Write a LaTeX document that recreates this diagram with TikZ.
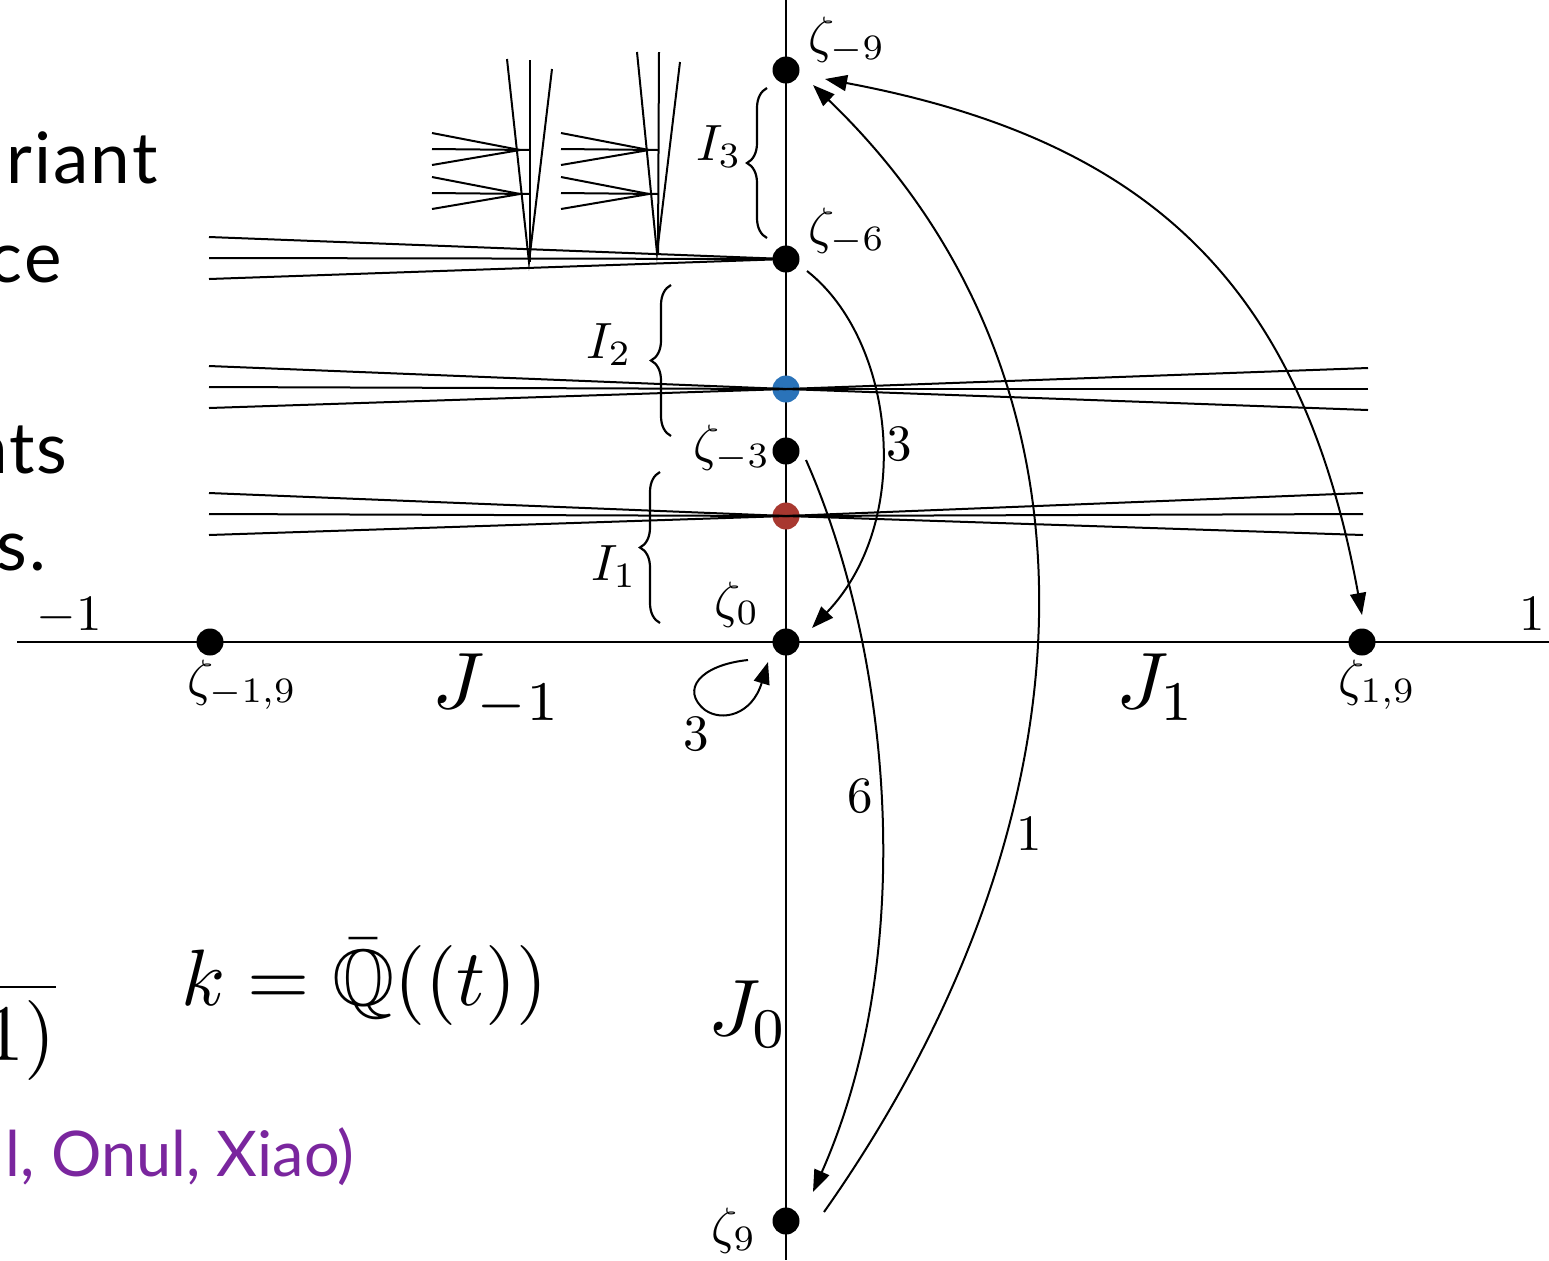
\RequirePackage{fix-cm}
\documentclass[tikz,border=0pt]{standalone}
\usepackage{graphicx}
\usepackage{amssymb}
\usepackage{fontspec}
\newfontfamily\slidesans{Lato}
\usetikzlibrary{arrows.meta,decorations.pathreplacing}
\definecolor{dotblue}{RGB}{42,115,185}
\definecolor{dotred}{RGB}{168,56,48}
\definecolor{authpurple}{RGB}{122,38,158}
\newcommand{\mlab}[1]{\scalebox{2.55}{$#1$}}
\newcommand{\mbig}[1]{\scalebox{4.0}{$#1$}}
\begin{document}
\begin{tikzpicture}[x=0.5pt,y=-0.5pt,
  axisline/.style={line width=1.2pt},
  fanline/.style={line width=1pt},
  dotnode/.style={circle,fill=black,inner sep=0pt,minimum size=13.5pt},
  lab/.style={inner sep=0pt},
  sanstext/.style={font=\slidesans\fontsize{35.5}{42}\selectfont\addfontfeatures{LetterSpace=3}, inner sep=0pt},
  authtext/.style={font=\slidesans\fontsize{31.5}{38}\selectfont, inner sep=0pt, text=authpurple},
  arr/.style={line width=1pt,-{Triangle[length=11pt,width=8pt]}},
  arrboth/.style={line width=1pt,{Triangle[length=11pt,width=8pt]}-{Triangle[length=11pt,width=8pt]}},
  brc/.style={decorate,decoration={brace,amplitude=10pt},line width=1.1pt}]
\useasboundingbox (0,0) rectangle (1549,1260);

% axes
\draw[axisline] (786,0) -- (786,1260);
\draw[axisline] (17,642) -- (1549,642);

% dots
\node[dotnode] (zm9) at (786,70) {};
\node[dotnode] (zm6) at (786,259) {};
\node[dotnode,fill=dotblue] (blue) at (786,389) {};
\node[dotnode] (zm3) at (786,451) {};
\node[dotnode,fill=dotred] (red) at (786,516) {};
\node[dotnode] (z0) at (786,642) {};
\node[dotnode] (zm19) at (210,642) {};
\node[dotnode] (z19) at (1362,642) {};
\node[dotnode] (z9) at (786,1221) {};

% fans
\draw[fanline] (209,237) -- (zm6.center) -- (209,279);
\draw[fanline] (209,258) -- (zm6.center);
\draw[fanline] (209,366) -- (blue.center) -- (209,408);
\draw[fanline] (209,387) -- (blue.center);
\draw[fanline] (1368,368) -- (blue.center) -- (1368,410);
\draw[fanline] (1368,389) -- (blue.center);
\draw[fanline] (209,493) -- (red.center) -- (209,535);
\draw[fanline] (209,514) -- (red.center);
\draw[fanline] (1363,493) -- (red.center) -- (1363,535);
\draw[fanline] (1363,514) -- (red.center);

% small fans (first)
\draw[fanline] (507,59) -- (529,262) -- (552,69);
\draw[fanline] (530,60) -- (530,262);
\draw[fanline] (432,133) -- (520,150) -- (432,165);
\draw[fanline] (432,149) -- (530,150);
\draw[fanline] (432,177) -- (520,194) -- (432,209);
\draw[fanline] (432,193) -- (530,194);
% small fans (second)
\draw[fanline] (637,52) -- (657,253) -- (680,62);
\draw[fanline] (659,52) -- (658,253);
\draw[fanline] (561,133) -- (649,150) -- (561,165);
\draw[fanline] (561,149) -- (658,150);
\draw[fanline] (561,177) -- (649,194) -- (561,209);
\draw[fanline] (561,193) -- (658,194);

% braces
\draw[brc] (767,238) -- (767,88);
\draw[brc] (671,436) -- (671,285);
\draw[brc] (660,623) -- (660,472);

% labels
\node[lab,anchor=base west] at (808,52) {\mlab{\zeta_{-9}}};
\node[lab,anchor=base west] at (808,243) {\mlab{\zeta_{-6}}};
\node[lab,anchor=base east] at (771,460) {\mlab{\zeta_{-3}}};
\node[lab,anchor=base west] at (714,617) {\mlab{\zeta_{0}}};
\node[lab,anchor=base west] at (187,695) {\mlab{\zeta_{-1,9}}};
\node[lab,anchor=base west] at (1338,695) {\mlab{\zeta_{1,9}}};
\node[lab,anchor=base west] at (711,1243) {\mlab{\zeta_{9}}};
\node[lab,anchor=base west] at (36,630) {\mlab{-1}};
\node[lab,anchor=base west] at (1519,630) {\mlab{1}};
\node[lab,anchor=base west] at (696,160) {\mlab{I_3}};
\node[lab,anchor=base west] at (586,358) {\mlab{I_2}};
\node[lab,anchor=base west] at (591,580) {\mlab{I_1}};
\node[lab,anchor=base west] at (432,708) {\mbig{J_{-1}}};
\node[lab,anchor=base west] at (1116,708) {\mbig{J_{1}}};
\node[lab,anchor=base west] at (708,1035) {\mbig{J_{0}}};
\node[lab,anchor=base west] at (886,460) {\mlab{3}};
\node[lab,anchor=base west] at (847,812) {\mlab{6}};
\node[lab,anchor=base west] at (1016,850) {\mlab{1}};
\node[lab,anchor=base west] at (683,750) {\mlab{3}};

% arrows
\draw[arrboth] ([shift={(0,-27)}]z19.center) .. controls (1302,285) and (1150,140) .. ([shift={(39,9)}]zm9.center);
\draw[arr] ([shift={(38,-9)}]z9.center) .. controls (1100,820) and (1120,380) .. ([shift={(27,15)}]zm9.center);
\draw[arr] ([shift={(20,9)}]zm3.center) .. controls (890,650) and (920,950) .. ([shift={(27,-29)}]z9.center);
\draw[arr] ([shift={(21,12)}]zm6.center) .. controls (895,340) and (915,520) .. ([shift={(26,-14)}]z0.center);
\draw[arr] ([shift={(-38,18)}]z0.center) .. controls (700,665) and (680,690) .. (705,710) .. controls (722,722) and (752,715) .. ([shift={(-18,20)}]z0.center);

% slide text fragments
\node[sanstext,anchor=base east] at (158,183) {riant};
\node[sanstext,anchor=base east] at (62,282) {ce};
\node[sanstext,anchor=base east] at (68,473) {nts};
\node[sanstext,anchor=base east] at (47,570) {s.};
\node[authtext,anchor=base east] at (355,1176) {l, Onul, Xiao)};
\node[lab,anchor=base west] at (181,1005) {\mbig{k=\bar{\mathbb{Q}}((t))}};
\node[lab,anchor=base east] (frag) at (56,1060) {\mbig{1)}};
\draw[line width=1.3pt] (0,987) -- (56,987);
\end{tikzpicture}
\end{document}
